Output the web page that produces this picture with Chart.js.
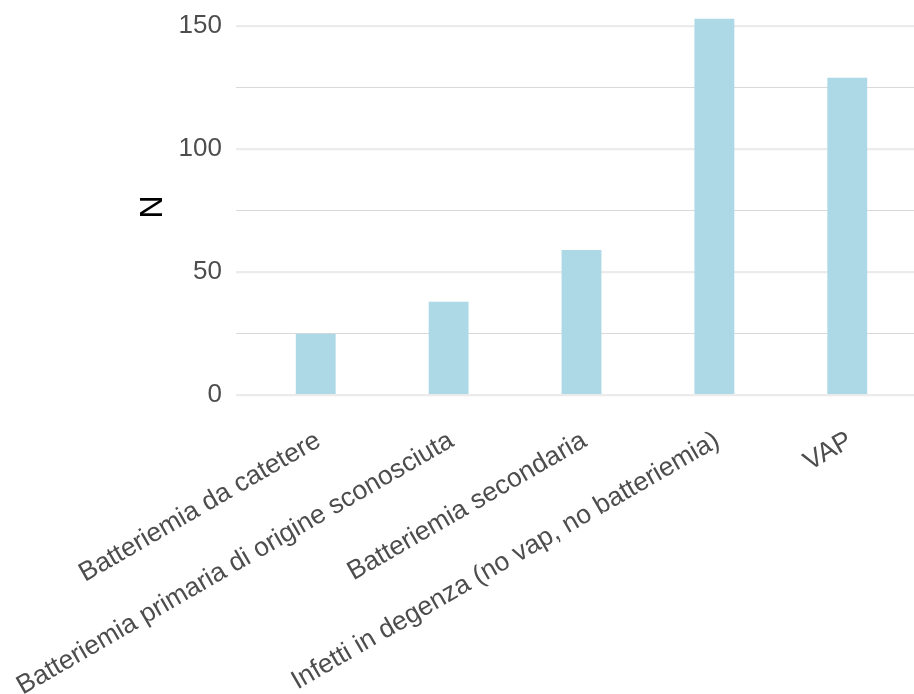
<!DOCTYPE html>
<html>
<head>
<meta charset="utf-8">
<script src="https://cdn.jsdelivr.net/npm/chart.js@4.4.1/dist/chart.umd.min.js"></script>
<style>
  html, body { margin: 0; padding: 0; background: #fff; overflow: hidden; }
  #wrap { width: 914px; height: 694px; overflow: hidden; }
</style>
</head>
<body>
<div id="wrap"><canvas id="chart" width="930" height="694"></canvas></div>
<script>
const CATEGORIES = [
  'Batteriemia da catetere',
  'Batteriemia primaria di origine sconosciuta',
  'Batteriemia secondaria',
  'Infetti in degenza (no vap, no batteriemia)',
  'VAP',
];
const COUNTS = [25, 38, 59, 153, 129];
const Y_TICKS = [0, 25, 50, 75, 100, 125, 150];
const Y_LABELS = ['0', '', '50', '', '100', '', '150'];

const FONT = "'Liberation Sans', Arial, Helvetica, sans-serif";

// ggplot-like fixed margins: drop chart.js' automatic label padding
function noPad(scale) {
  scale.paddingTop = 0;
  scale.paddingBottom = 0;
  scale.paddingLeft = 0;
  scale.paddingRight = 0;
}

new Chart(document.getElementById('chart'), {
  type: 'bar',
  data: {
    datasets: [{
      label: 'N',
      data: COUNTS.map((n, i) => ({ x: i + 1, y: n })),
      backgroundColor: '#ADD8E6',
      borderWidth: 0,
      categoryPercentage: 0.3,
      barPercentage: 1,
    }],
  },
  options: {
    responsive: false,
    animation: false,
    layout: { padding: { left: 0, right: 3, top: 0, bottom: 0 } },
    plugins: { legend: { display: false }, tooltip: { enabled: false } },
    scales: {
      x: {
        type: 'linear',
        min: 0.4,
        max: 5.6,
        offset: false,
        grid: { display: false, drawTicks: false, offset: false },
        border: { display: false },
        afterBuildTicks: (axis) => { axis.ticks = CATEGORIES.map((_, i) => ({ value: i + 1 })); },
        afterFit: (scale) => { scale.height = 280; noPad(scale); },
        ticks: {
          autoSkip: false,
          minRotation: 30,
          maxRotation: 30,
          padding: 11,
          labelOffset: 3,
          color: '#4D4D4D',
          font: { family: FONT, size: 26.5 },
          callback: (v) => CATEGORIES[v - 1],
        },
      },
      y: {
        min: -7.65,
        max: 160.65,
        afterBuildTicks: (axis) => { axis.ticks = Y_TICKS.map((v) => ({ value: v })); },
        afterFit: (scale) => { scale.width = 236; noPad(scale); },
        grid: {
          drawTicks: false,
          color: (c) => (c.tick && c.tick.value % 50 === 0 ? '#EBEBEB' : '#D9D9D9'),
          lineWidth: (c) => (c.tick && c.tick.value % 50 === 0 ? 2.2 : 1.1),
        },
        border: { display: false },
        ticks: {
          padding: 14,
          color: '#4D4D4D',
          font: { family: FONT, size: 26 },
          callback: (v) => Y_LABELS[Y_TICKS.indexOf(v)],
        },
        title: {
          display: true,
          text: 'N',
          color: '#000000',
          padding: { top: 134, bottom: 0 },
          font: { family: FONT, size: 32 },
        },
      },
    },
  },
});
</script>
</body>
</html>
